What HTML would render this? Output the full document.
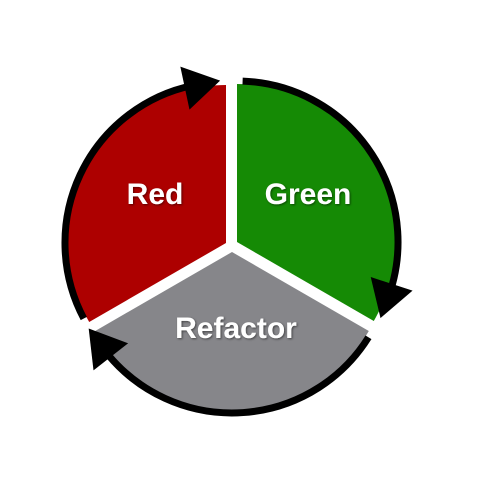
<!DOCTYPE html>
<html><head><style>
html,body{margin:0;padding:0;background:#fff;width:488px;height:494px;overflow:hidden}
text{font-family:"Liberation Sans",sans-serif;font-weight:bold;font-size:30px;fill:#fff}
</style></head><body>
<svg width="488" height="494" viewBox="0 0 488 494">
<defs><filter id="s"><feDropShadow dx="1" dy="1" stdDeviation="1" flood-color="#000" flood-opacity="0.5"/></filter></defs>
<g transform="translate(226,243)">
  <path d="M0,0 L-136.8,79 A158,158 0 0 1 0,-158 Z" fill="#ad0000"/>
  <path d="M-142.2,75.5 A161,161 0 0 1 -33.5,-157.5" fill="none" stroke="#000" stroke-width="7"/>
  <polygon points="-8,-182 28,-160 -8,-138" fill="#000" transform="rotate(348)"/>
</g>
<g transform="translate(237,242)">
  <path d="M0,0 L0,-158 A158,158 0 0 1 136.8,79 Z" fill="#158a05"/>
  <path d="M5.6,-160.9 A161,161 0 0 1 149.3,60.3" fill="none" stroke="#000" stroke-width="7"/>
  <polygon points="-8,-182 28,-160 -8,-138" fill="#000" transform="rotate(108)"/>
</g>
<g transform="translate(232,252)">
  <path d="M0,0 L136.8,79 A158,158 0 0 1 -136.8,79 Z" fill="#86868a"/>
  <path d="M136.5,85.3 A161,161 0 0 1 -123.3,103.5" fill="none" stroke="#000" stroke-width="7"/>
  <polygon points="-8,-182 28,-160 -8,-138" fill="#000" transform="rotate(232)"/>
</g>
<g filter="url(#s)">
<text x="155" y="204" text-anchor="middle">Red</text>
<text x="308" y="204" text-anchor="middle">Green</text>
<text x="236" y="338" text-anchor="middle">Refactor</text>
</g>
</svg>
</body></html>
